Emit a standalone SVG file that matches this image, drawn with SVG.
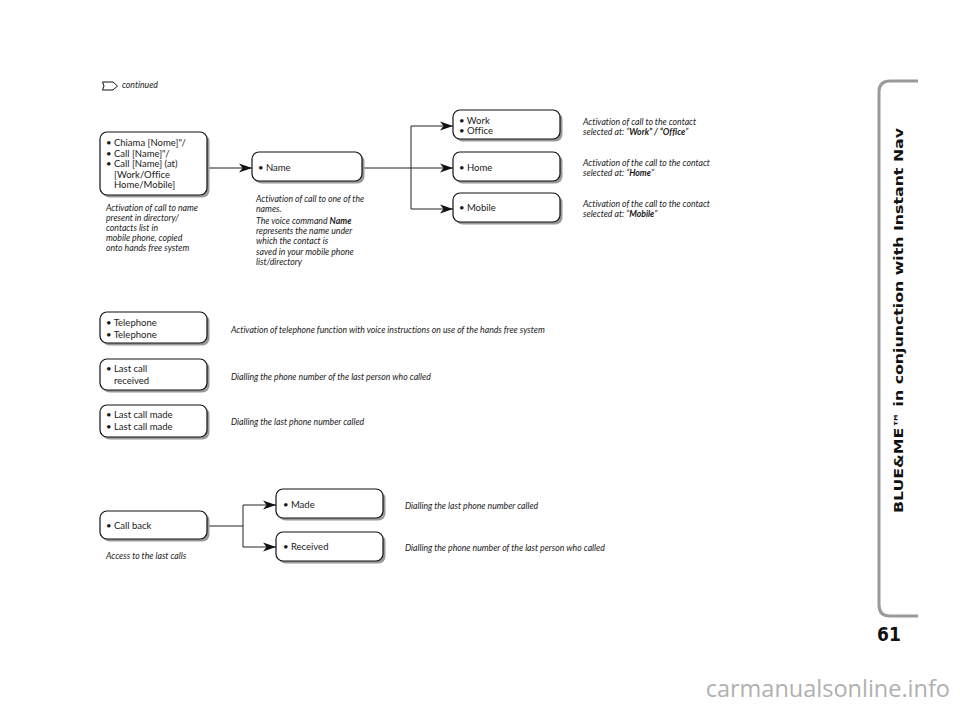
<svg xmlns="http://www.w3.org/2000/svg" width="960" height="709" viewBox="0 0 960 709">
<defs>
<marker id="arr" markerWidth="14" markerHeight="10" refX="13" refY="5" orient="auto" markerUnits="userSpaceOnUse">
<path d="M0,0.5 L13,5 L0,9.5 L3.5,5 Z" fill="#111"/>
</marker>
</defs>
<style>
.sh{fill:#9a9a9a}
.bx{fill:#fff;stroke:#111;stroke-width:1.2}
.t{font-family:Lato,"Open Sans",sans-serif;font-size:9.5px;fill:#1a1a1a;font-variant-ligatures:none}
.c{font-family:Lato,"Open Sans",sans-serif;font-size:8.7px;font-style:italic;fill:#1a1a1a;font-variant-ligatures:none}
.b{font-weight:bold}
.ln{fill:none;stroke:#222;stroke-width:1}
</style>
<rect width="960" height="709" fill="#fff"/>

<g id="continued">
<path d="M102.5,82 L113,82 L117.5,86 L113,90 L102.5,90 L104,86 Z" fill="#fff" stroke="#111" stroke-width="1"/>
<text class="c" x="122" y="88">continued</text>
</g>

<g id="connectors">
<line class="ln" x1="209" y1="168" x2="252" y2="168" marker-end="url(#arr)"/>
<line class="ln" x1="364" y1="168" x2="453" y2="168" marker-end="url(#arr)"/>
<polyline class="ln" points="411,168 411,126 453,126" marker-end="url(#arr)"/>
<polyline class="ln" points="411,168 411,209 453,209" marker-end="url(#arr)"/>
<line class="ln" x1="209" y1="526" x2="243" y2="526"/>
<polyline class="ln" points="243,526 243,505 276,505" marker-end="url(#arr)"/>
<polyline class="ln" points="243,526 243,547 276,547" marker-end="url(#arr)"/>
</g>

<g id="n-chiama">
<rect class="sh" x="102.5" y="134.5" width="107" height="63" rx="7"/>
<rect class="bx" x="100" y="132" width="107" height="63" rx="7"/>
<text class="t" x="106" y="146">• Chiama [Nome]"/</text>
<text class="t" x="106" y="156.5">• Call [Name]"/</text>
<text class="t" x="106" y="167">• Call [Name] (at)</text>
<text class="t" x="114" y="177.5">[Work/Office</text>
<text class="t" x="114" y="188">Home/Mobile]</text>
<text class="c" x="106" y="211">Activation of call to name</text>
<text class="c" x="106" y="221">present in directory/</text>
<text class="c" x="106" y="231">contacts list in</text>
<text class="c" x="106" y="241">mobile phone, copied</text>
<text class="c" x="106" y="251">onto hands free system</text>
</g>

<g id="n-name">
<rect class="sh" x="254.5" y="154.5" width="110" height="29" rx="7"/>
<rect class="bx" x="252" y="152" width="110" height="29" rx="7"/>
<text class="t" x="258" y="170.5">• Name</text>
<text class="c" x="256" y="202">Activation of call to one of the</text>
<text class="c" x="256" y="212">names.</text>
<text class="c" x="256" y="224">The voice command <tspan class="b">Name</tspan></text>
<text class="c" x="256" y="234">represents the name under</text>
<text class="c" x="256" y="244">which the contact is</text>
<text class="c" x="256" y="255">saved in your  mobile phone</text>
<text class="c" x="256" y="265">list/directory</text>
</g>

<g id="n-work">
<rect class="sh" x="455.5" y="112.5" width="107" height="29" rx="7"/>
<rect class="bx" x="453" y="110" width="107" height="29" rx="7"/>
<text class="t" x="459" y="123.5">• Work</text>
<text class="t" x="459" y="134">• Office</text>
<text class="c" x="583" y="125">Activation of call to the contact</text>
<text class="c" x="583" y="135">selected at: “<tspan class="b">Work” / “Office</tspan>”</text>
</g>

<g id="n-home">
<rect class="sh" x="455.5" y="154.5" width="107" height="29" rx="7"/>
<rect class="bx" x="453" y="152" width="107" height="29" rx="7"/>
<text class="t" x="459" y="170.5">• Home</text>
<text class="c" x="583" y="166">Activation of the call to the contact</text>
<text class="c" x="583" y="176">selected at: “<tspan class="b">Home</tspan>”</text>
</g>

<g id="n-mobile">
<rect class="sh" x="455.5" y="195.5" width="107" height="29" rx="7"/>
<rect class="bx" x="453" y="193" width="107" height="29" rx="7"/>
<text class="t" x="459" y="211">• Mobile</text>
<text class="c" x="583" y="207">Activation of the call to the contact</text>
<text class="c" x="583" y="217">selected at: “<tspan class="b">Mobile</tspan>”</text>
</g>

<g id="n-telephone">
<rect class="sh" x="102.5" y="314.5" width="107" height="31" rx="7"/>
<rect class="bx" x="100" y="312" width="107" height="31" rx="7"/>
<text class="t" x="106" y="326">• Telephone</text>
<text class="t" x="106" y="338">• Telephone</text>
<text class="c" x="231" y="333">Activation of telephone function with voice instructions on use of the hands free system</text>
</g>

<g id="n-lastreceived">
<rect class="sh" x="102.5" y="361.5" width="107" height="31" rx="7"/>
<rect class="bx" x="100" y="359" width="107" height="31" rx="7"/>
<text class="t" x="106" y="372">• Last call</text>
<text class="t" x="114" y="384">received</text>
<text class="c" x="231" y="380">Dialling the phone number of the last person who called</text>
</g>

<g id="n-lastmade">
<rect class="sh" x="102.5" y="407.5" width="107" height="32" rx="7"/>
<rect class="bx" x="100" y="405" width="107" height="32" rx="7"/>
<text class="t" x="106" y="418">• Last call made</text>
<text class="t" x="106" y="430">• Last call made</text>
<text class="c" x="231" y="425">Dialling the last phone number called</text>
</g>

<g id="n-callback">
<rect class="sh" x="102.5" y="513.5" width="107" height="28" rx="7"/>
<rect class="bx" x="100" y="511" width="107" height="28" rx="7"/>
<text class="t" x="106" y="529">• Call back</text>
<text class="c" x="106" y="559">Access to the last calls</text>
</g>

<g id="n-made">
<rect class="sh" x="278.5" y="491.5" width="107" height="29" rx="7"/>
<rect class="bx" x="276" y="489" width="107" height="29" rx="7"/>
<text class="t" x="283" y="507.5">• Made</text>
<text class="c" x="405" y="509">Dialling the last phone number called</text>
</g>

<g id="n-received">
<rect class="sh" x="278.5" y="534.5" width="107" height="29" rx="7"/>
<rect class="bx" x="276" y="532" width="107" height="29" rx="7"/>
<text class="t" x="283" y="550">• Received</text>
<text class="c" x="405" y="551">Dialling the phone number of the last person who called</text>
</g>

<g id="sidebar">
<path d="M918,81 L890,81 Q879,81 879,92 L879,605 Q879,616 890,616 L918,616" fill="none" stroke="#9a9a9a" stroke-width="3"/>
<text transform="translate(903,513) rotate(-90)" x="0" y="0" textLength="385" lengthAdjust="spacingAndGlyphs" font-family="'DejaVu Sans',sans-serif" font-weight="bold" font-size="12.5" fill="#111">BLUE&amp;ME™ in conjunction with Instant Nav</text>
<text x="889" y="641" text-anchor="middle" font-family="'DejaVu Sans Condensed','DejaVu Sans',sans-serif" font-weight="bold" font-size="19" fill="#111">61</text>
</g>

<text x="950" y="697" text-anchor="end" font-family="'Open Sans','DejaVu Sans',sans-serif" font-size="23.5" fill="#b0b0b0">carmanualsonline.info</text>
</svg>
